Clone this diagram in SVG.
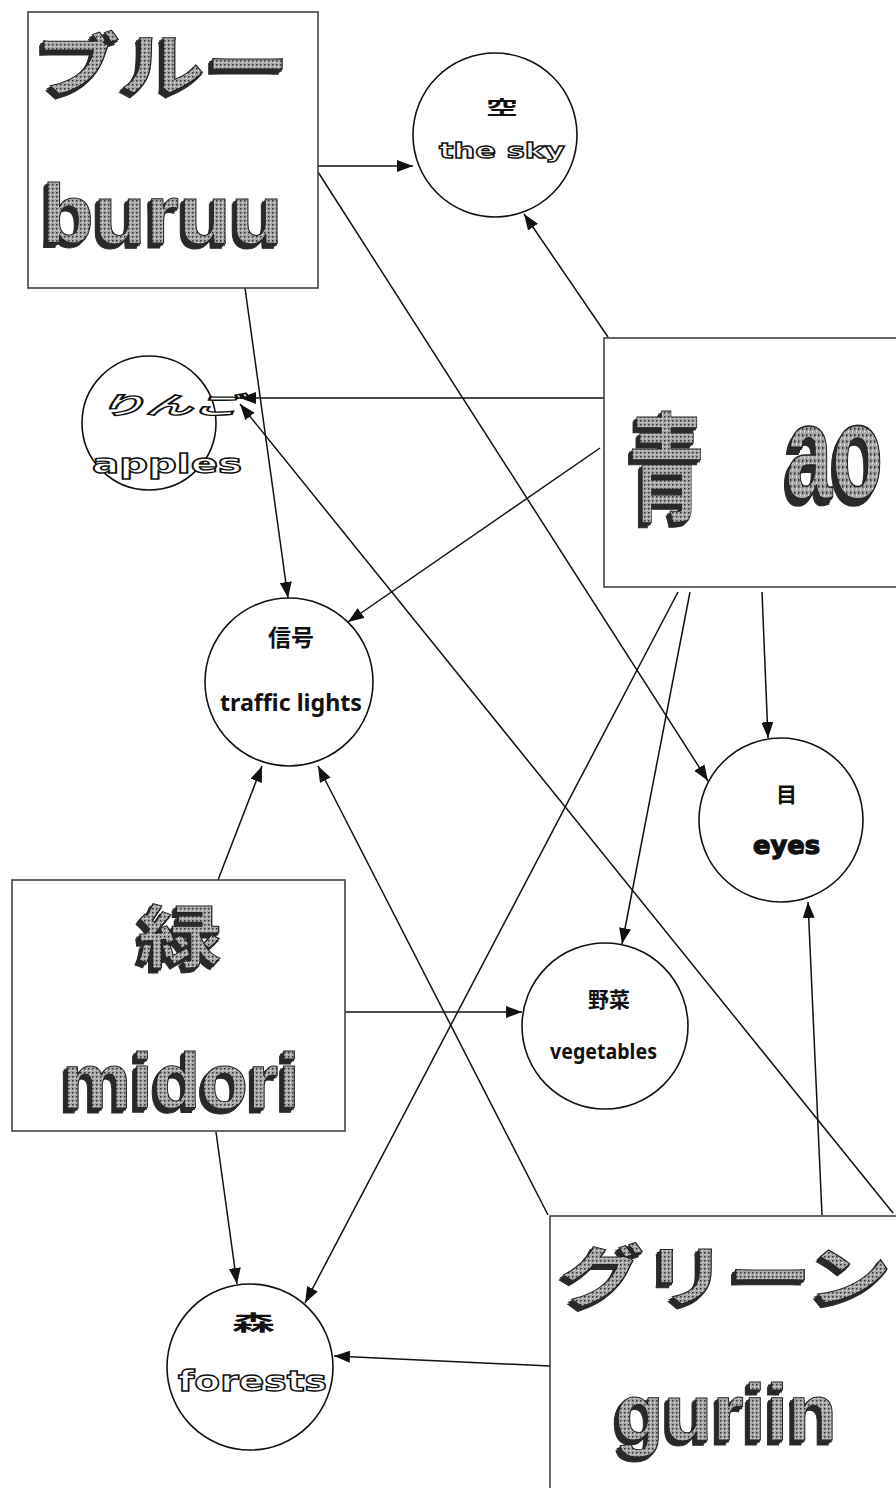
<svg xmlns="http://www.w3.org/2000/svg" width="896" height="1488" viewBox="0 0 896 1488">
<style>
.box{fill:#fff;stroke:#444;stroke-width:1.6}
.circ{fill:#fff;stroke:#111;stroke-width:1.6}
.edge{stroke:#111;stroke-width:1.5;fill:none;marker-end:url(#arr)}
.wa{font-family:"Liberation Sans","Noto Sans CJK JP",sans-serif;font-weight:bold;fill:url(#speck);stroke:#222;stroke-width:1;filter:url(#ext)}
.waj{font-family:"Noto Sans CJK JP",sans-serif;font-weight:bold;fill:url(#speck);stroke:#222;stroke-width:1;filter:url(#ext)}
.ol{font-family:"DejaVu Sans","Noto Sans CJK JP",sans-serif;font-weight:bold;fill:#fff;stroke:#111;stroke-width:1.3}
.jp{font-family:"Noto Sans CJK JP",sans-serif;font-weight:bold;fill:#111}
.lb{font-family:"Noto Sans","Open Sans",sans-serif;font-weight:bold;fill:#111}
</style>
<defs>
<marker id="arr" markerUnits="userSpaceOnUse" markerWidth="18" markerHeight="14" refX="16" refY="6" orient="auto">
<path d="M0,0 L16,6 L0,12 z" fill="#111"/>
</marker>
<pattern id="speck" width="4" height="4" patternUnits="userSpaceOnUse">
<rect width="4" height="4" fill="#a8a8a8"/>
<rect x="0" y="0" width="1.5" height="1.5" fill="#333"/>
<rect x="2" y="2" width="1" height="1" fill="#eee"/>
</pattern>
<filter id="ext" x="-10%" y="-5%" width="112%" height="120%">
<feFlood flood-color="#2a2a2a" result="f"/>
<feComposite in="f" in2="SourceAlpha" operator="in" result="dark"/>
<feOffset in="dark" dx="-1.5" dy="1.5" result="o1"/>
<feOffset in="dark" dx="-3" dy="3" result="o2"/>
<feOffset in="dark" dx="-4.5" dy="4.5" result="o3"/>
<feMerge><feMergeNode in="o3"/><feMergeNode in="o2"/><feMergeNode in="o1"/><feMergeNode in="SourceGraphic"/></feMerge>
</filter>
</defs>
<rect width="896" height="1488" fill="#fff"/>

<g id="connectors">
<line class="edge" x1="318" y1="166" x2="413" y2="166"/>
<line class="edge" x1="318" y1="172" x2="708" y2="781"/>
<line class="edge" x1="245" y1="288" x2="288" y2="598"/>
<line class="edge" x1="608" y1="337" x2="524" y2="214"/>
<line class="edge" x1="604" y1="398" x2="240" y2="398"/>
<line class="edge" x1="600" y1="448" x2="348" y2="622"/>
<line class="edge" x1="762" y1="592" x2="768" y2="738"/>
<line class="edge" x1="690" y1="592" x2="622" y2="944"/>
<line class="edge" x1="678" y1="592" x2="305" y2="1303"/>
<line class="edge" x1="218" y1="880" x2="262" y2="766"/>
<line class="edge" x1="345" y1="1012" x2="522" y2="1012"/>
<line class="edge" x1="216" y1="1132" x2="237" y2="1284"/>
<line class="edge" x1="548" y1="1215" x2="318" y2="766"/>
<line class="edge" x1="822" y1="1215" x2="808" y2="902"/>
<line class="edge" x1="550" y1="1366" x2="334" y2="1356"/>
<line class="edge" x1="893" y1="1213" x2="240" y2="404"/>
</g>

<g id="buruu">
<rect class="box" x="28" y="12" width="290" height="276"/>
<text class="waj" x="35" y="90" font-size="68" textLength="255" lengthAdjust="spacingAndGlyphs">ブルー</text>
<text class="wa" x="42" y="243" font-size="84" textLength="241" lengthAdjust="spacingAndGlyphs">buruu</text>
</g>

<g id="sky">
<circle class="circ" cx="495" cy="135" r="82"/>
<text class="jp" x="486" y="115" font-size="19" textLength="32" lengthAdjust="spacingAndGlyphs">空</text>
<text class="ol" x="439" y="158" font-size="22" textLength="126" lengthAdjust="spacingAndGlyphs">the sky</text>
</g>

<g id="ao">
<rect class="box" x="604" y="338" width="300" height="249"/>
<text class="waj" x="628" y="512" font-size="118" textLength="77" lengthAdjust="spacingAndGlyphs">青</text>
<text class="wa" transform="translate(786,498) scale(1,1.6)" x="0" y="0" font-size="84" textLength="97" lengthAdjust="spacingAndGlyphs">ao</text>
</g>

<g id="apples">
<circle class="circ" cx="149" cy="423" r="67"/>
<text class="ol" x="98" y="414" font-size="24" font-style="italic" textLength="142" lengthAdjust="spacingAndGlyphs">りんご</text>
<text class="ol" x="92" y="473" font-size="26" textLength="150" lengthAdjust="spacingAndGlyphs">apples</text>
</g>

<g id="traffic">
<circle class="circ" cx="289" cy="682" r="84"/>
<text class="jp" x="268" y="646" font-size="23" textLength="46" lengthAdjust="spacingAndGlyphs">信号</text>
<text class="lb" x="220" y="711" font-size="24" textLength="142" lengthAdjust="spacingAndGlyphs">traffic lights</text>
</g>

<g id="eyes">
<circle class="circ" cx="781" cy="820" r="82"/>
<text class="jp" x="776" y="802" font-size="21" textLength="21" lengthAdjust="spacingAndGlyphs">目</text>
<text class="ol" x="753" y="854" font-size="24" textLength="67" lengthAdjust="spacingAndGlyphs" style="fill:#111">eyes</text>
</g>

<g id="midori">
<rect class="box" x="12" y="880" width="333" height="251"/>
<text class="waj" x="138" y="962" font-size="68" textLength="84" lengthAdjust="spacingAndGlyphs">緑</text>
<text class="wa" x="62" y="1108" font-size="77" textLength="238" lengthAdjust="spacingAndGlyphs">midori</text>
</g>

<g id="vegetables">
<circle class="circ" cx="605" cy="1026" r="83"/>
<text class="jp" x="588" y="1007" font-size="21" textLength="42" lengthAdjust="spacingAndGlyphs">野菜</text>
<text class="lb" x="550" y="1059" font-size="22" textLength="107" lengthAdjust="spacingAndGlyphs">vegetables</text>
</g>

<g id="forests">
<circle class="circ" cx="250" cy="1367" r="83"/>
<text class="jp" x="232" y="1330" font-size="21" textLength="43" lengthAdjust="spacingAndGlyphs">森</text>
<text class="ol" x="178" y="1391" font-size="28" textLength="149" lengthAdjust="spacingAndGlyphs">forests</text>
</g>

<g id="guriin">
<rect class="box" x="550" y="1216" width="360" height="290"/>
<text class="waj" x="560" y="1300" font-size="66" textLength="332" lengthAdjust="spacingAndGlyphs">グリーン</text>
<text class="wa" x="615" y="1440" font-size="80" textLength="222" lengthAdjust="spacingAndGlyphs">guriin</text>
</g>
</svg>
